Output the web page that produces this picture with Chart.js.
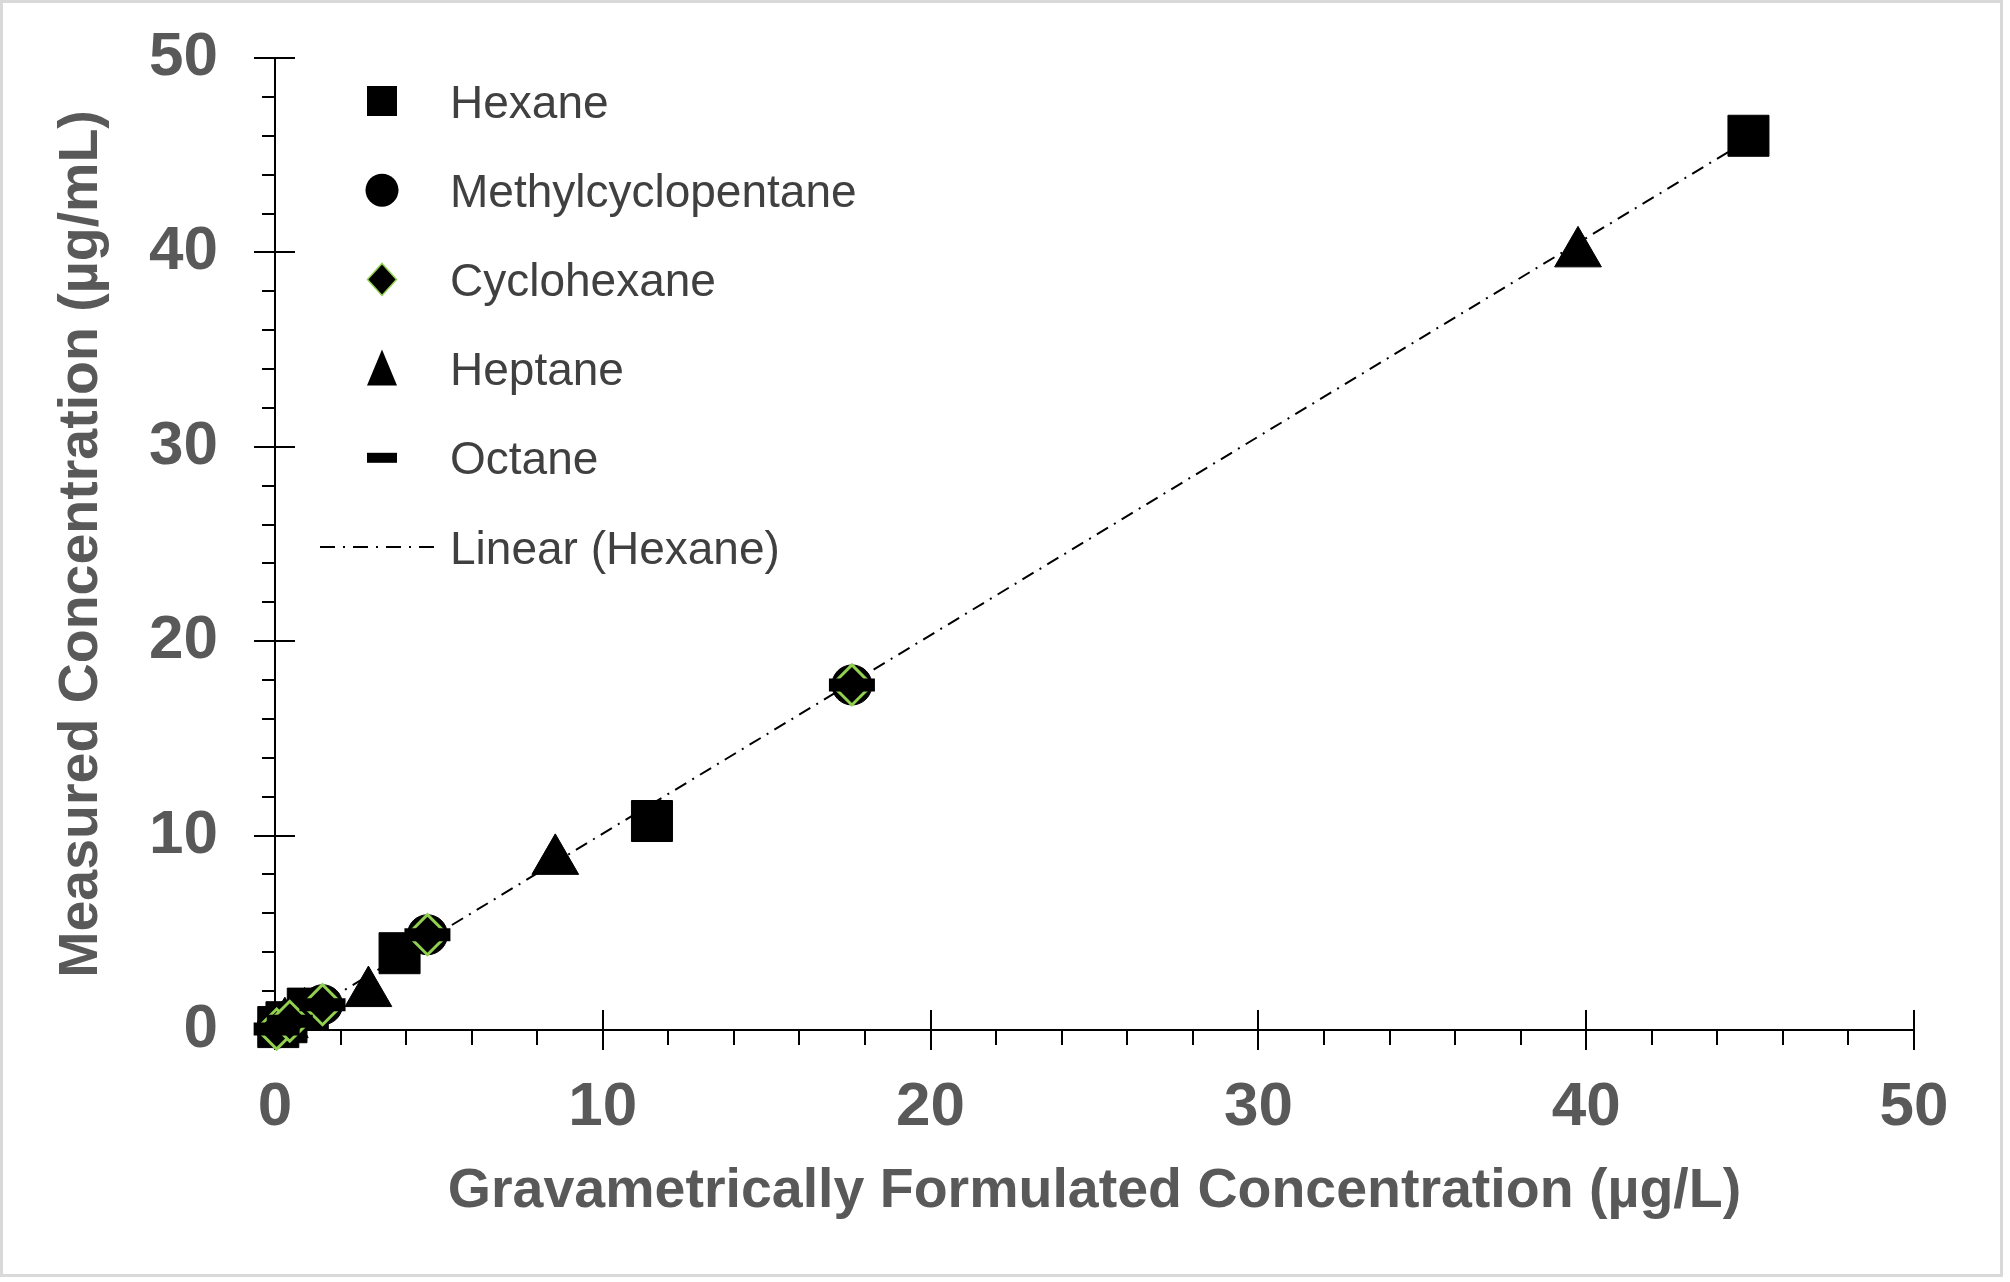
<!DOCTYPE html>
<html>
<head>
<meta charset="utf-8">
<title>Measured vs Gravametric Concentration</title>
<script src="https://cdn.jsdelivr.net/npm/chart.js@4.4.1/dist/chart.umd.min.js"></script>
<style>
  html, body { margin: 0; padding: 0; background: #fff; overflow: hidden; }
  canvas { display: block; }
</style>
</head>
<body>
<canvas id="calib" width="2010" height="1282"></canvas>
<script>
// x = gravametrically formulated (µg/L), y = measured (µg/mL)
const hexaneX = [0.1, 0.35, 1.0, 3.8, 11.5, 44.95];
const hexaneY = [0.15, 0.4, 1.1, 3.95, 10.75, 46.0];
const mcpX = [0.05, 0.45, 1.45, 4.65, 17.6];
const mcpY = [0.1, 0.5, 1.3, 4.9, 17.75];
const cyclohexaneX = [0.05, 0.45, 1.45, 4.65, 17.6];
const cyclohexaneY = [0.05, 0.45, 1.3, 4.9, 17.75];
const heptaneX = [0.3, 0.9, 2.85, 8.55, 39.75];
const heptaneY = [0.3, 0.8, 1.9, 8.7, 39.95];
const octaneX = [0.05, 0.45, 1.45, 4.65, 17.6];
const octaneY = [0.05, 0.45, 1.3, 4.9, 17.75];

const xTicks = [0, 10, 20, 30, 40, 50];
const yTicks = [0, 10, 20, 30, 40, 50];
const minorStep = 2;

const FONT = '"Liberation Sans", Arial, sans-serif';
const GREEN = '#92d050';

function pts(xs, ys) {
    return xs.map((x, i) => ({ x: x, y: ys[i] }));
}

// least squares line, like Excel's linear trendline
function linearFit(xs, ys) {
    const n = xs.length;
    const mx = xs.reduce((a, b) => a + b, 0) / n;
    const my = ys.reduce((a, b) => a + b, 0) / n;
    let sxy = 0, sxx = 0;
    for (let i = 0; i < n; i++) {
        sxy += (xs[i] - mx) * (ys[i] - my);
        sxx += (xs[i] - mx) * (xs[i] - mx);
    }
    const slope = sxy / sxx;
    const icpt = my - slope * mx;
    return x => icpt + slope * x;
}

const hexFit = linearFit(hexaneX, hexaneY);
const trendX = [Math.min(...hexaneX), Math.max(...hexaneX)];

// white card with thin grey frame
const frame = {
    id: 'frame',
    beforeDraw(chart) {
        const ctx = chart.ctx;
        ctx.save();
        ctx.fillStyle = '#fff';
        ctx.fillRect(0, 0, chart.width, chart.height);
        ctx.strokeStyle = '#d9d9d9';
        ctx.lineWidth = 3;
        ctx.strokeRect(1.5, 1.5, 2000, 1274);
        ctx.restore();
    }
};

// major ticks cross the axis, minor ticks sit outside
const axisTicks = {
    id: 'axisTicks',
    beforeDatasetsDraw(chart) {
        const { ctx, chartArea: a } = chart;
        const xs = chart.scales.x, ys = chart.scales.y;
        ctx.save();
        ctx.strokeStyle = '#000';
        ctx.lineWidth = 2;
        ctx.beginPath();
        for (let v = ys.min; v <= ys.max; v += minorStep) {
            const major = yTicks.includes(v);
            const py = Math.round(ys.getPixelForValue(v));
            ctx.moveTo(a.left - (major ? 21 : 13), py);
            ctx.lineTo(a.left + (major ? 20 : 0), py);
        }
        for (let v = xs.min; v <= xs.max; v += minorStep) {
            const major = xTicks.includes(v);
            const px = Math.round(xs.getPixelForValue(v));
            ctx.moveTo(px, a.bottom - (major ? 20 : 0));
            ctx.lineTo(px, a.bottom + (major ? 20 : 15));
        }
        ctx.stroke();
        ctx.restore();
    }
};

function legendSymbol(ctx, ds, cx, cy, a) {
    ctx.save();
    ctx.fillStyle = '#000';
    ctx.strokeStyle = '#000';
    ctx.beginPath();
    if (ds.type === 'line') {
        ctx.lineWidth = 2;
        ctx.setLineDash([15, 8, 2, 8]);
        ctx.moveTo(a.left + 45, cy);
        ctx.lineTo(a.left + 167, cy);
        ctx.stroke();
    } else if (ds.pointStyle === 'rect') {
        ctx.fillRect(cx - 15, cy - 15, 30, 30);
    } else if (ds.pointStyle === 'circle') {
        ctx.arc(cx, cy, 16.5, 0, Math.PI * 2);
        ctx.fill();
    } else if (ds.pointStyle === 'rectRot') {
        ctx.moveTo(cx, cy - 16);
        ctx.lineTo(cx + 14.5, cy);
        ctx.lineTo(cx, cy + 16);
        ctx.lineTo(cx - 14.5, cy);
        ctx.closePath();
        ctx.fill();
        ctx.strokeStyle = ds.pointBorderColor;
        ctx.lineWidth = 1.5;
        ctx.stroke();
    } else if (ds.pointStyle === 'triangle') {
        ctx.moveTo(cx, cy - 19);
        ctx.lineTo(cx + 15, cy + 17);
        ctx.lineTo(cx - 15, cy + 17);
        ctx.closePath();
        ctx.fill();
    } else if (ds.pointStyle === 'line') {
        ctx.fillRect(cx - 15, cy - 5, 30, 10);
    }
    ctx.restore();
}

const insideLegend = {
    id: 'insideLegend',
    afterDatasetsDraw(chart) {
        const { ctx, chartArea: a } = chart;
        ctx.save();
        ctx.font = '46px ' + FONT;
        ctx.textAlign = 'left';
        ctx.textBaseline = 'alphabetic';
        chart.data.datasets.forEach((ds, i) => {
            const cy = a.top + 43 + i * 89.2;
            legendSymbol(ctx, ds, a.left + 107, cy, a);
            ctx.fillStyle = '#404040';
            ctx.fillText(ds.label, a.left + 175, cy + 16.5);
        });
        ctx.restore();
    }
};

document.addEventListener('DOMContentLoaded', function() {
    const el = document.getElementById('calib');

    const datasets = [
        {
            label: 'Hexane',
            data: pts(hexaneX, hexaneY),
            pointStyle: 'rect',
            pointRadius: 29,
            pointBackgroundColor: '#000',
            pointBorderColor: '#000',
            pointBorderWidth: 1,
            order: 3
        },
        {
            label: 'Methylcyclopentane',
            data: pts(mcpX, mcpY),
            pointStyle: 'circle',
            pointRadius: 20,
            pointBackgroundColor: '#000',
            pointBorderColor: '#000',
            pointBorderWidth: 1,
            order: 2
        },
        {
            label: 'Cyclohexane',
            data: pts(cyclohexaneX, cyclohexaneY),
            pointStyle: 'rectRot',
            pointRadius: 20,
            pointBackgroundColor: '#000',
            pointBorderColor: GREEN,
            pointBorderWidth: 3,
            order: 1
        },
        {
            label: 'Heptane',
            data: pts(heptaneX, heptaneY),
            pointStyle: 'triangle',
            pointRadius: 27,
            pointBackgroundColor: '#000',
            pointBorderColor: '#000',
            pointBorderWidth: 1,
            order: 4
        },
        {
            label: 'Octane',
            data: pts(octaneX, octaneY),
            pointStyle: 'line',
            pointRadius: 23,
            pointBackgroundColor: '#000',
            pointBorderColor: '#000',
            pointBorderWidth: 13,
            order: 0
        },
        {
            type: 'line',
            label: 'Linear (Hexane)',
            data: trendX.map(x => ({ x: x, y: hexFit(x) })),
            borderColor: '#000',
            borderWidth: 2,
            borderDash: [13, 7, 2, 7],
            pointRadius: 0,
            fill: false,
            order: 5
        }
    ];

    const tickFont = { family: FONT, size: 62, weight: 'bold' };
    const titleFont = { family: FONT, size: 55.5, weight: 'bold' };

    window.calibChart = new Chart(el, {
        type: 'scatter',
        data: { datasets: datasets },
        options: {
            responsive: false,
            animation: false,
            devicePixelRatio: 1,
            events: [],
            clip: false,
            layout: { padding: { top: 58, right: 96, bottom: 0, left: 0 } },
            plugins: {
                legend: { display: false },
                tooltip: { enabled: false }
            },
            scales: {
                x: {
                    type: 'linear',
                    min: 0,
                    max: 50,
                    afterBuildTicks: s => { s.ticks = xTicks.map(v => ({ value: v })); },
                    afterFit: s => { s.height = 252; s.paddingLeft = 0; s.paddingRight = 0; },
                    grid: { display: false, drawTicks: false },
                    border: { display: true, color: '#000', width: 2 },
                    ticks: { padding: 41, color: '#595959', font: tickFont, maxRotation: 0, autoSkip: false },
                    title: {
                        display: true,
                        text: 'Gravametrically Formulated Concentration (µg/L)',
                        color: '#595959',
                        font: titleFont,
                        padding: { top: 0, bottom: 57 }
                    }
                },
                y: {
                    type: 'linear',
                    min: 0,
                    max: 50,
                    afterBuildTicks: s => { s.ticks = yTicks.map(v => ({ value: v })); },
                    afterFit: s => { s.width = 275; s.paddingTop = 0; s.paddingBottom = 0; },
                    grid: { display: false, drawTicks: false },
                    border: { display: true, color: '#000', width: 2 },
                    ticks: { padding: 57, color: '#595959', font: tickFont, autoSkip: false },
                    title: {
                        display: true,
                        text: 'Measured Concentration (µg/mL)',
                        color: '#595959',
                        font: titleFont,
                        padding: { top: 48, bottom: 0 }
                    }
                }
            }
        },
        plugins: [frame, axisTicks, insideLegend]
    });
});
</script>
</body>
</html>
